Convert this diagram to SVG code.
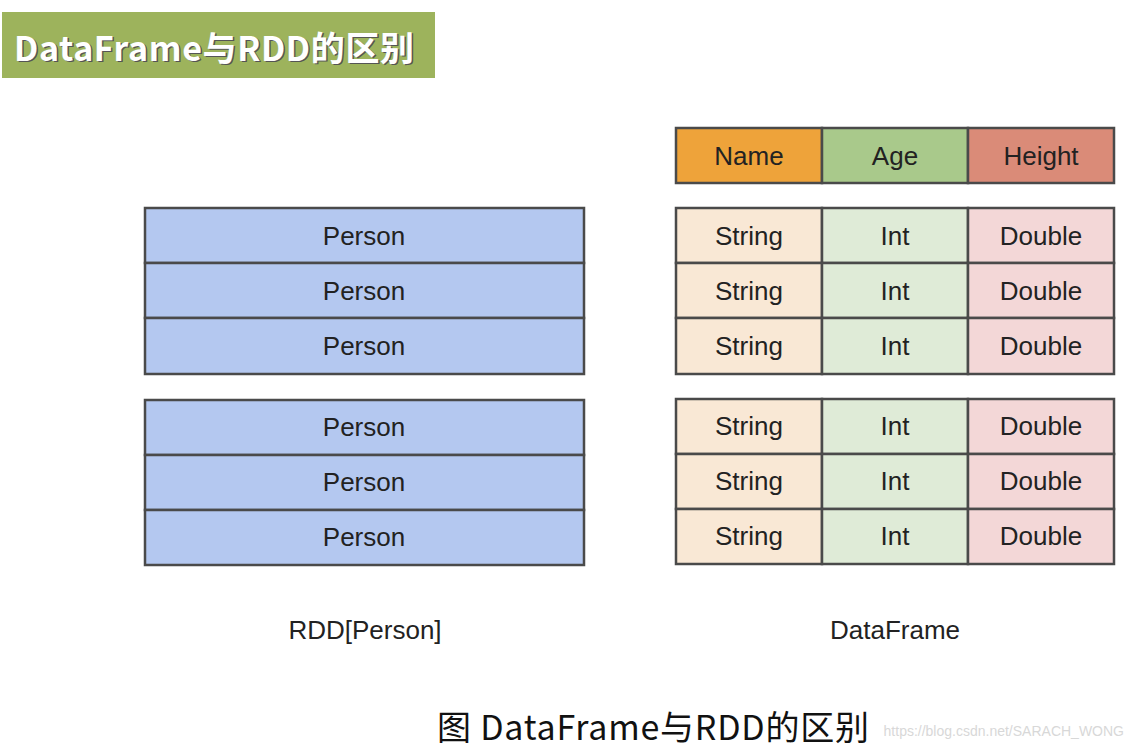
<svg xmlns="http://www.w3.org/2000/svg" width="1134" height="750" viewBox="0 0 1134 750">
<style>
.c{stroke:#4a4a4a;stroke-width:2.5}
.t{font-family:"Liberation Sans",Arial,sans-serif;font-size:26px;fill:#222;text-anchor:middle;dominant-baseline:central}
.p{fill:#b4c8f0}.s{fill:#f9e8d5}.i{fill:#dfebd7}.d{fill:#f3d7d7}
</style>
<rect width="1134" height="750" fill="#fff"/>
<g id="title">
<rect x="2" y="12" width="433" height="66" fill="#9db35c"/>
<text x="14" y="46" font-family="'Noto Sans CJK SC',sans-serif" font-weight="bold" font-size="34" fill="#555" dominant-baseline="central" transform="translate(1.5,1.5)" textLength="400">DataFrame与RDD的区别</text>
<text x="14" y="46" font-family="'Noto Sans CJK SC',sans-serif" font-weight="bold" font-size="34" fill="#fff" dominant-baseline="central" textLength="400">DataFrame与RDD的区别</text>
</g>
<g id="rdd">
<rect class="c p" x="145" y="208" width="439" height="55"/><text class="t" x="364" y="236">Person</text>
<rect class="c p" x="145" y="263" width="439" height="55"/><text class="t" x="364" y="291">Person</text>
<rect class="c p" x="145" y="318" width="439" height="56"/><text class="t" x="364" y="346">Person</text>
<rect class="c p" x="145" y="400" width="439" height="55"/><text class="t" x="364" y="427">Person</text>
<rect class="c p" x="145" y="455" width="439" height="55"/><text class="t" x="364" y="482">Person</text>
<rect class="c p" x="145" y="510" width="439" height="55"/><text class="t" x="364" y="537">Person</text>
</g>
<g id="header">
<rect class="c" x="676" y="128" width="146" height="55" fill="#eea33a"/><text class="t" x="749" y="156">Name</text>
<rect class="c" x="822" y="128" width="146" height="55" fill="#a9c98b"/><text class="t" x="895" y="156">Age</text>
<rect class="c" x="968" y="128" width="146" height="55" fill="#da8b78"/><text class="t" x="1041" y="156">Height</text>
</g>
<g id="df1">
<rect class="c s" x="676" y="208" width="146" height="55"/><text class="t" x="749" y="236">String</text>
<rect class="c i" x="822" y="208" width="146" height="55"/><text class="t" x="895" y="236">Int</text>
<rect class="c d" x="968" y="208" width="146" height="55"/><text class="t" x="1041" y="236">Double</text>
<rect class="c s" x="676" y="263" width="146" height="55"/><text class="t" x="749" y="291">String</text>
<rect class="c i" x="822" y="263" width="146" height="55"/><text class="t" x="895" y="291">Int</text>
<rect class="c d" x="968" y="263" width="146" height="55"/><text class="t" x="1041" y="291">Double</text>
<rect class="c s" x="676" y="318" width="146" height="56"/><text class="t" x="749" y="346">String</text>
<rect class="c i" x="822" y="318" width="146" height="56"/><text class="t" x="895" y="346">Int</text>
<rect class="c d" x="968" y="318" width="146" height="56"/><text class="t" x="1041" y="346">Double</text>
</g>
<g id="df2">
<rect class="c s" x="676" y="399" width="146" height="55"/><text class="t" x="749" y="426">String</text>
<rect class="c i" x="822" y="399" width="146" height="55"/><text class="t" x="895" y="426">Int</text>
<rect class="c d" x="968" y="399" width="146" height="55"/><text class="t" x="1041" y="426">Double</text>
<rect class="c s" x="676" y="454" width="146" height="55"/><text class="t" x="749" y="481">String</text>
<rect class="c i" x="822" y="454" width="146" height="55"/><text class="t" x="895" y="481">Int</text>
<rect class="c d" x="968" y="454" width="146" height="55"/><text class="t" x="1041" y="481">Double</text>
<rect class="c s" x="676" y="509" width="146" height="55"/><text class="t" x="749" y="536">String</text>
<rect class="c i" x="822" y="509" width="146" height="55"/><text class="t" x="895" y="536">Int</text>
<rect class="c d" x="968" y="509" width="146" height="55"/><text class="t" x="1041" y="536">Double</text>
</g>
<g id="labels">
<text class="t" x="365" y="630" font-size="25">RDD[Person]</text>
<text class="t" x="895" y="630" font-size="25">DataFrame</text>
<text x="437" y="725" font-family="'Noto Sans CJK SC',sans-serif" font-size="34" fill="#111" dominant-baseline="central" textLength="432">图 DataFrame与RDD的区别</text>
<text x="1124" y="731" font-family="'Liberation Sans',Arial,sans-serif" font-size="14" fill="#d8d8d8" text-anchor="end" dominant-baseline="central">https://blog.csdn.net/SARACH_WONG</text>
</g>
<g id="connectors"/>
</svg>
